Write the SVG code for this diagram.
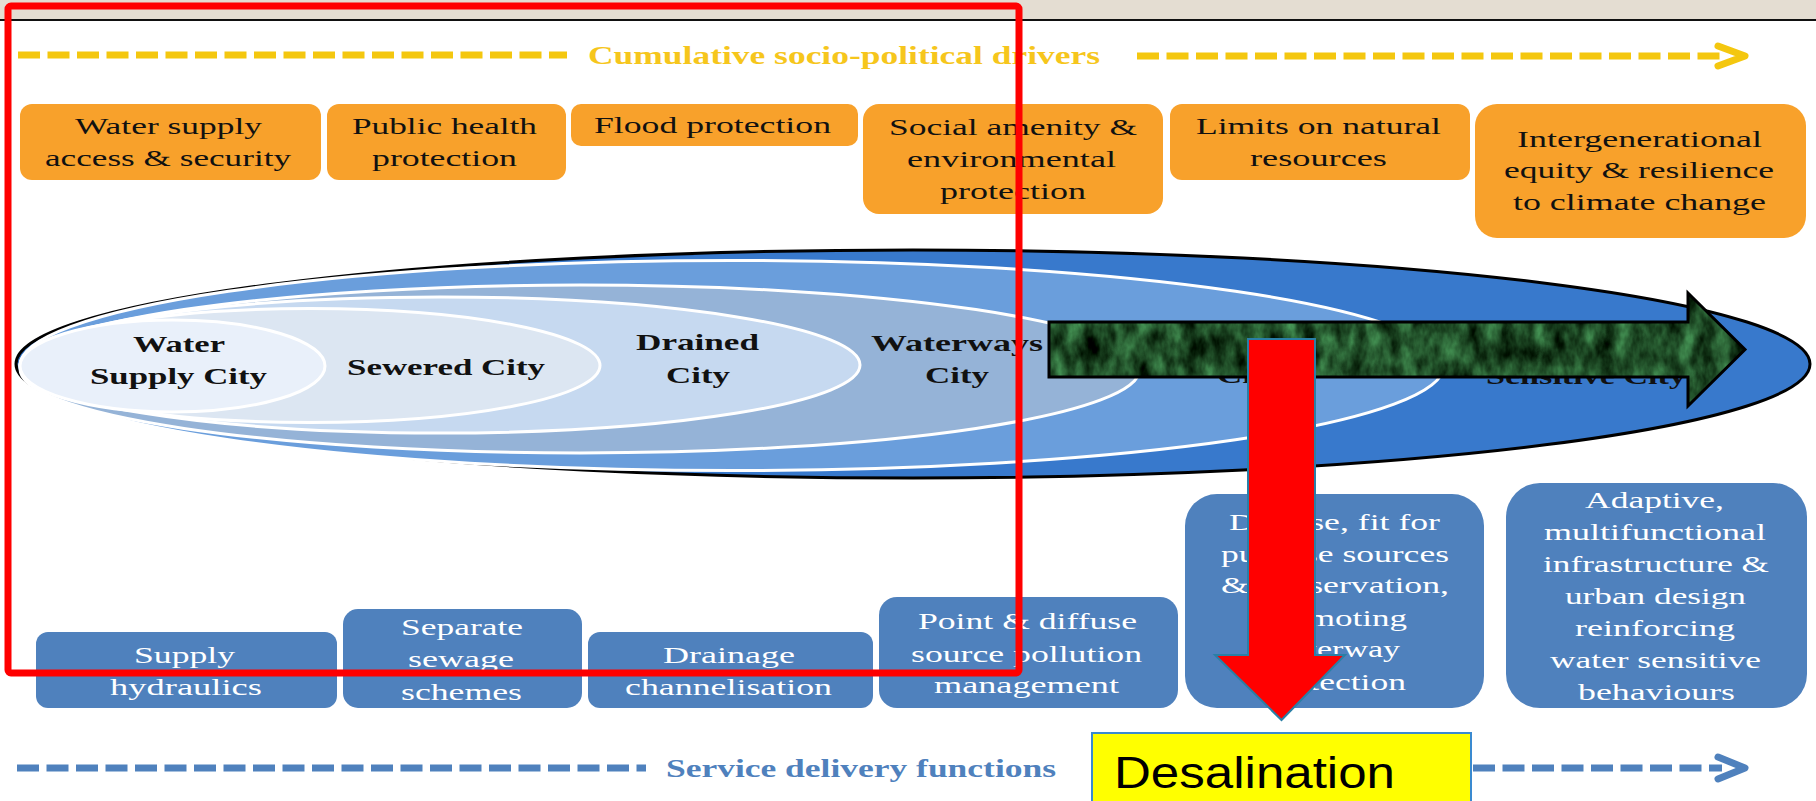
<svg xmlns="http://www.w3.org/2000/svg" width="1816" height="801" viewBox="0 0 1816 801">
<defs>
<style>
.ot{font-family:"Liberation Serif","Times New Roman",serif;font-size:24px;fill:#111;text-anchor:middle}
.bt{font-family:"Liberation Serif","Times New Roman",serif;font-size:24px;fill:#fff;text-anchor:middle}
.et{font-family:"Liberation Serif","Times New Roman",serif;font-size:24px;font-weight:bold;fill:#111;text-anchor:middle}
.ob{fill:#f8a12b}
.bb{fill:#4f81bd}
.ring{stroke:#fff;stroke-width:3}
.dy{stroke:#f4c70f;stroke-width:7;stroke-dasharray:22 7.5;fill:none}
.db{stroke:#4f81bd;stroke-width:7;stroke-dasharray:22 7.5;fill:none}
.chev{fill:none;stroke-width:7;stroke-linecap:round;stroke-linejoin:round}
</style>
<filter id="marble" x="0" y="0" width="1" height="1" color-interpolation-filters="sRGB">
<feTurbulence type="fractalNoise" baseFrequency="0.06 0.03" numOctaves="4" seed="7" result="n"/>
<feColorMatrix in="n" type="matrix" values="0.45 0 0 0 -0.1  0.85 0 0 0 -0.12  0.55 0 0 0 -0.12  0 0 0 0 1" result="c"/>
<feComposite in="c" in2="SourceGraphic" operator="in"/>
</filter>
</defs>
<rect x="0" y="0" width="1816" height="801" fill="#fff"/>
<g id="topband">
<rect x="0" y="0" width="1816" height="20" fill="#e4ddd2"/>
<line x1="0" y1="20" x2="1816" y2="20" stroke="#111" stroke-width="2"/>
</g>
<g id="connectors">
<line class="dy" x1="18" y1="55" x2="567" y2="55"/>
<line class="dy" x1="1137" y1="56" x2="1722" y2="56"/>
<polyline class="chev" stroke="#f4c70f" points="1718,46 1745,56 1718,66"/>
<text x="844" y="64" font-family="Liberation Serif,Times New Roman,serif" font-size="26" font-weight="bold" fill="#f6c61c" text-anchor="middle" textLength="512" lengthAdjust="spacingAndGlyphs">Cumulative socio-political drivers</text>
<line class="db" x1="17" y1="768" x2="646" y2="768"/>
<line class="db" x1="1473" y1="768" x2="1722" y2="768"/>
<polyline class="chev" stroke="#4f81bd" points="1718,757 1745,768 1718,779"/>
<text x="861" y="777" font-family="Liberation Serif,Times New Roman,serif" font-size="26" font-weight="bold" fill="#4f81bd" text-anchor="middle" textLength="390" lengthAdjust="spacingAndGlyphs">Service delivery functions</text>
</g>
<g id="driver-water-supply">
<rect class="ob" x="20" y="104" width="301" height="76" rx="12"/>
<text class="ot" x="168.5" y="134" textLength="187" lengthAdjust="spacingAndGlyphs">Water supply</text>
<text class="ot" x="168" y="166" textLength="246" lengthAdjust="spacingAndGlyphs">access &amp; security</text>
</g>
<g id="driver-public-health">
<rect class="ob" x="327" y="104" width="239" height="76" rx="12"/>
<text class="ot" x="444.5" y="134" textLength="185" lengthAdjust="spacingAndGlyphs">Public health</text>
<text class="ot" x="444.5" y="166" textLength="145" lengthAdjust="spacingAndGlyphs">protection</text>
</g>
<g id="driver-flood">
<rect class="ob" x="571" y="104" width="287" height="42" rx="10"/>
<text class="ot" x="712.5" y="133" textLength="237" lengthAdjust="spacingAndGlyphs">Flood protection</text>
</g>
<g id="driver-social">
<rect class="ob" x="863" y="104" width="300" height="110" rx="16"/>
<text class="ot" x="1013" y="135" textLength="248" lengthAdjust="spacingAndGlyphs">Social amenity &amp;</text>
<text class="ot" x="1011.5" y="167" textLength="209" lengthAdjust="spacingAndGlyphs">environmental</text>
<text class="ot" x="1013" y="199" textLength="146" lengthAdjust="spacingAndGlyphs">protection</text>
</g>
<g id="driver-limits">
<rect class="ob" x="1170" y="104" width="300" height="76" rx="12"/>
<text class="ot" x="1318.5" y="134" textLength="245" lengthAdjust="spacingAndGlyphs">Limits on natural</text>
<text class="ot" x="1318.5" y="166" textLength="137" lengthAdjust="spacingAndGlyphs">resources</text>
</g>
<g id="driver-intergenerational">
<rect class="ob" x="1475" y="104" width="331" height="134" rx="22"/>
<text class="ot" x="1639.5" y="147" textLength="245" lengthAdjust="spacingAndGlyphs">Intergenerational</text>
<text class="ot" x="1639" y="178" textLength="270" lengthAdjust="spacingAndGlyphs">equity &amp; resilience</text>
<text class="ot" x="1639.5" y="210" textLength="253" lengthAdjust="spacingAndGlyphs">to climate change</text>
</g>
<g id="water-sensitive-city">
<ellipse cx="913" cy="364" rx="897" ry="114" fill="#3879cc" stroke="#000" stroke-width="3"/>
<text class="et" x="1586" y="384" textLength="200" lengthAdjust="spacingAndGlyphs">Sensitive City</text>
</g>
<g id="water-cycle-city">
<ellipse class="ring" cx="732" cy="365.5" rx="712" ry="105" fill="#6a9edc"/>
<text class="et" x="1249" y="383" textLength="64" lengthAdjust="spacingAndGlyphs">City</text>
</g>
<g id="waterways-city">
<ellipse class="ring" cx="580" cy="369" rx="560" ry="84" fill="#95b3d7"/>
<text class="et" x="957" y="351" textLength="172" lengthAdjust="spacingAndGlyphs">Waterways</text>
<text class="et" x="957" y="383" textLength="64" lengthAdjust="spacingAndGlyphs">City</text>
</g>
<g id="drained-city">
<ellipse class="ring" cx="440" cy="365" rx="420" ry="68" fill="#c6d9f0"/>
<text class="et" x="697.5" y="350" textLength="123" lengthAdjust="spacingAndGlyphs">Drained</text>
<text class="et" x="698" y="383" textLength="64" lengthAdjust="spacingAndGlyphs">City</text>
</g>
<g id="sewered-city">
<ellipse class="ring" cx="310" cy="365.5" rx="290" ry="57" fill="#dce6f2"/>
<text class="et" x="446" y="375" textLength="198" lengthAdjust="spacingAndGlyphs">Sewered City</text>
</g>
<g id="water-supply-city">
<ellipse class="ring" cx="172.5" cy="366" rx="152.5" ry="46" fill="#e9f0fa"/>
<text class="et" x="179" y="352" textLength="92" lengthAdjust="spacingAndGlyphs">Water</text>
<text class="et" x="178.5" y="384" textLength="177" lengthAdjust="spacingAndGlyphs">Supply City</text>
</g>
<g id="fn-supply">
<rect class="bb" x="36" y="632" width="301" height="76" rx="12"/>
<text class="bt" x="184.5" y="663" textLength="101" lengthAdjust="spacingAndGlyphs">Supply</text>
<text class="bt" x="186" y="695" textLength="152" lengthAdjust="spacingAndGlyphs">hydraulics</text>
</g>
<g id="fn-sewage">
<rect class="bb" x="343" y="609" width="239" height="99" rx="15"/>
<text class="bt" x="462" y="635" textLength="122" lengthAdjust="spacingAndGlyphs">Separate</text>
<text class="bt" x="461" y="667" textLength="106" lengthAdjust="spacingAndGlyphs">sewage</text>
<text class="bt" x="461.5" y="700" textLength="121" lengthAdjust="spacingAndGlyphs">schemes</text>
</g>
<g id="fn-drainage">
<rect class="bb" x="588" y="632" width="285" height="76" rx="12"/>
<text class="bt" x="729" y="663" textLength="132" lengthAdjust="spacingAndGlyphs">Drainage</text>
<text class="bt" x="728.5" y="695" textLength="207" lengthAdjust="spacingAndGlyphs">channelisation</text>
</g>
<g id="fn-pollution">
<rect class="bb" x="879" y="597" width="299" height="111" rx="18"/>
<text class="bt" x="1027.5" y="629" textLength="219" lengthAdjust="spacingAndGlyphs">Point &amp; diffuse</text>
<text class="bt" x="1026.5" y="662" textLength="231" lengthAdjust="spacingAndGlyphs">source pollution</text>
<text class="bt" x="1026.5" y="693" textLength="185" lengthAdjust="spacingAndGlyphs">management</text>
</g>
<g id="fn-diverse">
<rect class="bb" x="1185" y="494" width="299" height="214" rx="32"/>
<text class="bt" x="1334.5" y="530" textLength="211" lengthAdjust="spacingAndGlyphs">Diverse, fit for</text>
<text class="bt" x="1335" y="562" textLength="228" lengthAdjust="spacingAndGlyphs">purpose sources</text>
<text class="bt" x="1335" y="593" textLength="228" lengthAdjust="spacingAndGlyphs">&amp; conservation,</text>
<text class="bt" x="1334" y="626" textLength="146" lengthAdjust="spacingAndGlyphs">promoting</text>
<text class="bt" x="1334" y="657" textLength="132" lengthAdjust="spacingAndGlyphs">waterway</text>
<text class="bt" x="1334" y="690" textLength="144" lengthAdjust="spacingAndGlyphs">protection</text>
</g>
<g id="fn-adaptive">
<rect class="bb" x="1506" y="483" width="301" height="225" rx="34"/>
<text class="bt" x="1654.5" y="508" textLength="139" lengthAdjust="spacingAndGlyphs">Adaptive,</text>
<text class="bt" x="1655" y="540" textLength="222" lengthAdjust="spacingAndGlyphs">multifunctional</text>
<text class="bt" x="1656" y="572" textLength="226" lengthAdjust="spacingAndGlyphs">infrastructure &amp;</text>
<text class="bt" x="1655.5" y="604" textLength="181" lengthAdjust="spacingAndGlyphs">urban design</text>
<text class="bt" x="1655" y="636" textLength="160" lengthAdjust="spacingAndGlyphs">reinforcing</text>
<text class="bt" x="1655.5" y="668" textLength="211" lengthAdjust="spacingAndGlyphs">water sensitive</text>
<text class="bt" x="1656.5" y="700" textLength="157" lengthAdjust="spacingAndGlyphs">behaviours</text>
</g>
<g id="desalination">
<rect x="1092" y="733" width="379" height="80" fill="#ffff00" stroke="#3a8ad0" stroke-width="2"/>
<text x="1254.5" y="788" font-family="Liberation Sans,Arial,sans-serif" font-size="44" fill="#000" text-anchor="middle" textLength="281" lengthAdjust="spacingAndGlyphs">Desalination</text>
</g>
<g id="arrows">
<polygon points="1049,322 1688,322 1688,293 1745,349.5 1688,406 1688,377 1049,377" fill="#1a4a26"/>
<polygon points="1049,322 1688,322 1688,293 1745,349.5 1688,406 1688,377 1049,377" fill="#1a4a26" filter="url(#marble)"/>
<polygon points="1049,322 1688,322 1688,293 1745,349.5 1688,406 1688,377 1049,377" fill="none" stroke="#000" stroke-width="3" stroke-linejoin="miter"/>
<polygon points="1248,339 1315,339 1315,655 1345,655 1281.5,720 1215,655 1248,655" fill="#ff0000" stroke="#2a7fa6" stroke-width="2"/>
</g>
<g id="highlight">
<rect x="8" y="6" width="1011" height="667" rx="3" fill="none" stroke="#ff0000" stroke-width="7"/>
</g>
</svg>
